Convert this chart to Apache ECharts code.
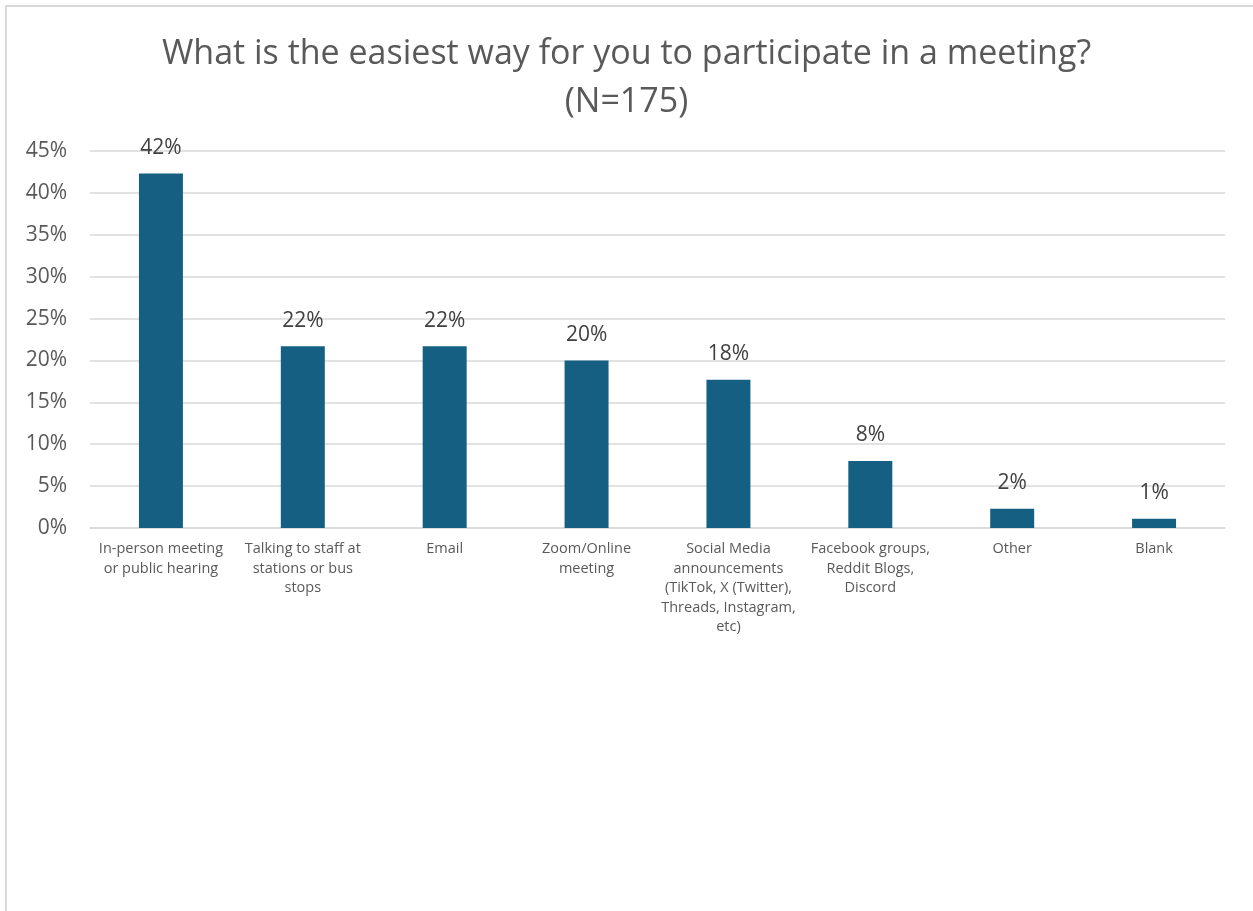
<!DOCTYPE html>
<html>
<head>
<meta charset="utf-8">
<title>Meeting participation</title>
<script src="https://cdn.jsdelivr.net/npm/echarts@6/dist/echarts.min.js"></script>
<style>
  html, body { margin: 0; padding: 0; background: #ffffff; }
  #chart { width: 1253px; height: 911px; }
</style>
</head>
<body>
<div id="chart"></div>
<script>
// Survey responses, share of respondents (N=175)
const categories = [
  'In-person meeting\nor public hearing',
  'Talking to staff at\nstations or bus\nstops',
  'Email',
  'Zoom/Online\nmeeting',
  'Social Media\nannouncements\n(TikTok, X (Twitter),\nThreads, Instagram,\netc)',
  'Facebook groups,\nReddit Blogs,\nDiscord',
  'Other',
  'Blank'
];
const shares = [0.423, 0.217, 0.217, 0.200, 0.177, 0.080, 0.023, 0.011];
const yTicks = { min: 0, max: 0.45, step: 0.05 };

const FONT = '"Open Sans", "Liberation Sans", sans-serif';
const pct = v => Math.round(v * 100) + '%';

const chart = echarts.init(document.getElementById('chart'), null, { renderer: 'canvas' });
chart.setOption({
  backgroundColor: '#ffffff',
  animation: false,
  textStyle: { fontFamily: FONT },
  title: {
    text: 'What is the easiest way for you to participate in a meeting?\n(N=175)',
    left: 'center',
    top: 25,
    textStyle: {
      fontFamily: FONT,
      fontSize: 34,
      fontWeight: 'normal',
      color: '#595959',
      lineHeight: 48
    }
  },
  graphic: [{
    type: 'rect',
    shape: { x: 6, y: 6, width: 1400, height: 1000 },
    style: { fill: 'none', stroke: '#d9d9d9', lineWidth: 2 },
    silent: true
  }],
  grid: { left: 90, right: 28, top: 151, bottom: 383, containLabel: false },
  xAxis: {
    type: 'category',
    data: categories,
    axisLine: { show: true, lineStyle: { color: '#d9d9d9', width: 1.5 } },
    axisTick: { show: false },
    axisLabel: {
      interval: 0,
      margin: 11,
      fontFamily: FONT,
      fontSize: 14.5,
      lineHeight: 19.6,
      color: '#595959'
    }
  },
  yAxis: {
    type: 'value',
    min: yTicks.min,
    max: yTicks.max,
    interval: yTicks.step,
    axisLine: { show: false },
    axisTick: { show: false },
    splitLine: { lineStyle: { color: '#d9d9d9', width: 1.5 } },
    axisLabel: {
      margin: 23,
      fontFamily: FONT,
      fontSize: 21,
      color: '#595959',
      formatter: pct
    }
  },
  series: [{
    type: 'bar',
    data: shares,
    barWidth: '31%',
    itemStyle: { color: '#156082' },
    label: {
      show: true,
      position: 'top',
      distance: 15,
      fontFamily: FONT,
      fontSize: 21,
      color: '#404040',
      formatter: p => pct(p.value)
    }
  }]
});
</script>
</body>
</html>
